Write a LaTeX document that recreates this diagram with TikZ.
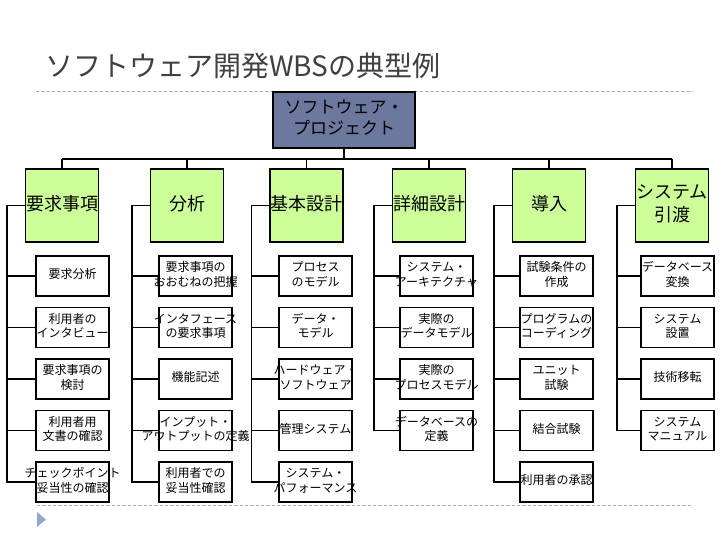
\documentclass[tikz,border=0pt]{standalone}
\usepackage{fontspec}
\newfontfamily\jp{Noto Sans CJK JP}
\usetikzlibrary{calc}
\definecolor{topfill}{RGB}{108,120,158}
\definecolor{grnfill}{RGB}{204,255,153}
\definecolor{titlecol}{RGB}{64,64,64}
\definecolor{dashcol}{RGB}{160,178,198}
\definecolor{tricol}{RGB}{143,170,200}
\newcommand{\zw}[1]{\makebox[0pt]{\begin{tabular}{@{}c@{}}#1\end{tabular}}}
\begin{document}
\begin{tikzpicture}[x=0.75pt,y=-0.75pt,
  conn/.style={draw=black,line width=0.9pt},
  topbox/.style={draw=black,line width=0.9pt,fill=topfill,minimum width=106.5pt,minimum height=42pt,inner sep=0pt,
    font=\jp\fontsize{12.75}{15}\selectfont},
  lvbox/.style={draw=black,line width=0.9pt,fill=grnfill,minimum width=54.75pt,minimum height=54.75pt,inner sep=0pt,
    font=\jp\fontsize{13.5}{17}\selectfont},
  chbox/.style={draw=black,line width=0.9pt,fill=white,minimum width=54.75pt,minimum height=30pt,inner sep=0pt,
    font=\jp\fontsize{9}{10.9}\selectfont},
  sepline/.style={draw=dashcol,line width=0.6pt,dash pattern=on 2.5pt off 1.5pt}]
\useasboundingbox (0,0) rectangle (728,546);
% title
\node[anchor=base west,inner sep=0pt,text=titlecol,font=\jp\fontsize{21}{25}\selectfont] (title) at (45,76) {ソフトウェア開発WBSの典型例};
\draw[sepline] (36,91.5) -- (693,91.5);
\draw[sepline] (37,505) -- (693,505);
\fill[tricol] (37,512) -- (37,527) -- (46,519.5) -- cycle;
% top
\node[topbox] (P) at (344,120) {\zw{ソフトウェア・\\プロジェクト}};
% level 2
\node[lvbox] (L1) at (62,205.5) {\zw{要求事項}};
\node[lvbox] (L2) at (187,205.5) {\zw{分析}};
\node[lvbox] (L3) at (306.5,205.5) {\zw{基本設計}};
\node[lvbox] (L4) at (429,205.5) {\zw{詳細設計}};
\node[lvbox] (L5) at (549,205.5) {\zw{導入}};
\node[lvbox] (L6) at (672,205.5) {\zw{システム\\引渡}};
\coordinate (bus) at (0,159);
\draw[conn] (P.south) -- (P.south |- bus);
\draw[conn] (L1.north |- bus) -- (L6.north |- bus);
\foreach \i in {1,...,6}{\draw[conn] (L\i.north) -- (L\i.north |- bus);}
% children column 1
\node[chbox] (C11) at (72.5,276) {\zw{要求分析}};
\node[chbox] (C12) at (72.5,327.5) {\zw{利用者の\\インタビュー}};
\node[chbox] (C13) at (72.5,379) {\zw{要求事項の\\検討}};
\node[chbox] (C14) at (72.5,430.5) {\zw{利用者用\\文書の確認}};
\node[chbox] (C15) at (72.5,482) {\zw{チェックポイント\\妥当性の確認}};
% column 2
\node[chbox] (C21) at (195.5,276) {\zw{要求事項の\\おおむねの把握}};
\node[chbox] (C22) at (195.5,327.5) {\zw{インタフェース\\の要求事項}};
\node[chbox] (C23) at (195.5,379) {\zw{機能記述}};
\node[chbox] (C24) at (195.5,430.5) {\zw{インプット・\\アウトプットの定義}};
\node[chbox] (C25) at (195.5,482) {\zw{利用者での\\妥当性確認}};
% column 3
\node[chbox] (C31) at (315.5,276) {\zw{プロセス\\のモデル}};
\node[chbox] (C32) at (315.5,327.5) {\zw{データ・\\モデル}};
\node[chbox] (C33) at (315.5,379) {\zw{ハードウェア・\\ソフトウェア}};
\node[chbox] (C34) at (315.5,430.5) {\zw{管理システム}};
\node[chbox] (C35) at (315.5,482) {\zw{システム・\\パフォーマンス}};
% column 4
\node[chbox] (C41) at (436.5,276) {\zw{システム・\\アーキテクチャ}};
\node[chbox] (C42) at (436.5,327.5) {\zw{実際の\\データモデル}};
\node[chbox] (C43) at (436.5,379) {\zw{実際の\\プロセスモデル}};
\node[chbox] (C44) at (436.5,430.5) {\zw{データベースの\\定義}};
% column 5
\node[chbox] (C51) at (556.5,276) {\zw{試験条件の\\作成}};
\node[chbox] (C52) at (556.5,327.5) {\zw{プログラムの\\コーディング}};
\node[chbox] (C53) at (556.5,379) {\zw{ユニット\\試験}};
\node[chbox] (C54) at (556.5,430.5) {\zw{結合試験}};
\node[chbox] (C55) at (556.5,482) {\zw{利用者の承認}};
% column 6
\node[chbox] (C61) at (677.5,276) {\zw{データベース\\変換}};
\node[chbox] (C62) at (677.5,327.5) {\zw{システム\\設置}};
\node[chbox] (C63) at (677.5,379) {\zw{技術移転}};
\node[chbox] (C64) at (677.5,430.5) {\zw{システム\\マニュアル}};
% side connectors
\foreach \c/\n in {1/5,2/5,3/5,4/4,5/5,6/4}{
  \coordinate (t\c) at ($(L\c.west)+(-18,0)$);
  \draw[conn] (L\c.west) -- (t\c) |- (C\c\n.west);
  \foreach \j in {1,...,\n}{\draw[conn] (t\c |- C\c\j.west) -- (C\c\j.west);}
}
\end{tikzpicture}
\end{document}
